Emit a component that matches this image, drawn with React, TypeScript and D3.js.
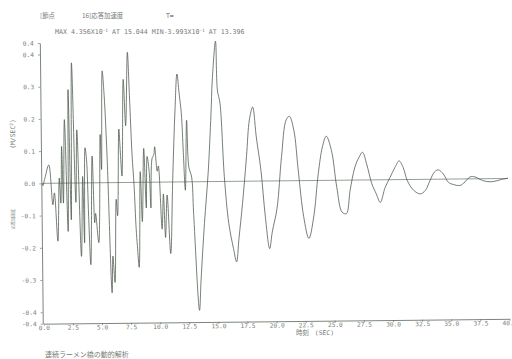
import React, { useEffect, useRef } from "react";
import * as d3 from "d3";

// response acceleration, node 16
const times = [
  0.0, 0.05, 0.23, 0.57, 0.89, 1.03, 1.29, 1.46, 1.58, 1.69, 1.8, 1.95, 2.18, 2.29, 2.46, 2.61,
  2.87, 3.01, 3.3, 3.47, 3.58, 3.7, 3.82, 3.95, 4.1, 4.3, 4.47, 4.55, 4.8, 5.01, 5.1, 5.24,
  5.39, 5.58, 5.9, 6.0, 6.16, 6.33, 6.44, 6.62, 6.73, 6.85, 7.04, 7.21, 7.42, 7.56, 7.73, 7.88,
  8.02, 8.11, 8.25, 8.42, 8.56, 8.74, 8.91, 9.02, 9.19, 9.31, 9.45, 9.6, 9.68, 9.88, 9.98,
  10.25, 10.39, 10.54, 10.71, 10.97, 11.2, 11.46, 11.66, 11.83, 12.0, 12.14, 12.28, 12.45,
  12.6, 12.83, 12.97, 13.39, 13.55, 13.89, 14.26, 14.55, 14.69, 15.0, 15.12, 15.33, 15.64,
  15.98, 16.36, 16.62, 16.84, 17.18, 17.56, 17.84, 18.13, 18.42, 18.79, 19.13, 19.47, 19.71,
  20.14, 20.57, 21.0, 21.28, 21.65, 21.99, 22.42, 22.85, 23.28, 23.71, 24.09, 24.43, 24.86,
  25.29, 25.72, 26.09, 26.43, 26.86, 27.23, 27.53, 27.87, 28.3, 28.67, 29.01, 29.44, 29.87,
  30.3, 30.67, 31.01, 31.36, 31.87, 32.45, 32.88, 33.3, 33.68, 34.02, 34.45, 34.88, 35.31,
  35.88, 36.31, 36.74, 37.17, 37.6, 38.18, 38.75, 39.32, 40.0,
];
const accel = [
  0.0, -0.007, 0.016, 0.057, -0.067, -0.03, -0.18, 0.016, -0.062, 0.114, -0.062, 0.197, -0.15,
  0.29, -0.114, 0.373, -0.06, 0.165, -0.228, 0.02, -0.186, 0.109, 0.072, -0.104, -0.254, 0.083,
  -0.124, -0.095, -0.186, 0.15, 0.041, 0.347, 0.27, 0.089, -0.342, -0.228, -0.31, -0.052,
  -0.103, 0.166, 0.094, 0.02, 0.32, 0.176, 0.404, 0.27, 0.089, -0.01, -0.144, -0.196, -0.264,
  0.033, -0.122, 0.105, -0.08, 0.08, 0.033, -0.08, 0.074, 0.085, 0.11, 0.034, 0.05, -0.146,
  -0.037, -0.172, -0.04, -0.222, 0.005, 0.222, 0.335, 0.275, 0.213, 0.09, -0.026, 0.191,
  0.046, 0.015, -0.098, -0.3993, -0.305, -0.13, 0.03, 0.21, 0.315, 0.4356, 0.284, 0.243,
  0.015, -0.13, -0.208, -0.25, -0.178, -0.069, 0.076, 0.19, 0.23, 0.137, 0.033, -0.112, -0.21,
  -0.158, -0.085, 0.075, 0.189, 0.2, 0.157, 0.033, -0.112, -0.18, -0.113, 0.021, 0.104, 0.137,
  0.093, -0.022, -0.099, -0.104, -0.032, 0.04, 0.071, 0.086, 0.05, -0.012, -0.043, -0.07,
  -0.024, 0.007, 0.038, 0.058, 0.037, -0.004, -0.033, -0.045, -0.035, -0.004, 0.022, 0.029,
  0.016, -0.01, -0.017, -0.02, -0.009, 0.006, 0.006, -0.002, -0.009, -0.009, -0.004, 0.001,
];
const xTicks = [0, 2.5, 5, 7.5, 10, 12.5, 15, 17.5, 20, 22.5, 25, 27.5, 30, 32.5, 35, 37.5, 40];
const yTicks = [-0.4, -0.3, -0.2, -0.1, 0, 0.1, 0.2, 0.3, 0.4];
const peak = 0.4356; // axis runs to +-MAX

const W = 512;
const H = 359;
const ink = "#5a685a";
const txt = "#767c76";
const mono = "'DejaVu Sans Mono', monospace";
const jp = "'Noto Sans CJK JP', sans-serif";

export default function App() {
  const gRef = useRef<SVGGElement>(null);

  useEffect(() => {
    const x = d3.scaleLinear().domain([0, 40]).range([42.3, 508]);
    const y = d3.scaleLinear().domain([-peak, peak]).range([323.7, 43]);
    const g = d3.select(gRef.current);
    g.selectAll("*").remove();

    const xa = g
      .append("g")
      .attr("transform", `translate(0,${y(-peak)})`)
      .call(
        d3
          .axisBottom(x)
          .tickValues(xTicks)
          .tickSize(2)
          .tickSizeOuter(0)
          .tickPadding(0)
          .tickFormat((d) => (+d).toFixed(1))
      );
    const ya = g
      .append("g")
      .attr("transform", `translate(${x(0) - 1},0)`)
      .call(
        d3
          .axisLeft(y)
          .tickValues([-peak, ...yTicks, peak])
          .tickSize(2)
          .tickSizeOuter(0)
          .tickPadding(4)
          .tickFormat((d) => (+d).toFixed(1))
      );
    [xa, ya].forEach((a) => {
      a.select(".domain").attr("stroke", ink).attr("stroke-width", 0.8);
      a.selectAll(".tick line").attr("stroke", ink).attr("stroke-width", 0.6);
      a.selectAll("text")
        .attr("fill", txt)
        .style("font-family", mono)
        .style("font-size", "6.2px");
    });

    // zero line
    g.append("line")
      .attr("x1", x(0))
      .attr("x2", x(40))
      .attr("y1", y(0))
      .attr("y2", y(0))
      .attr("stroke", "#667666")
      .attr("stroke-width", 0.7);

    const line = d3
      .line<number>()
      .x((_, i) => x(times[i]))
      .y((d) => y(d))
      .curve(d3.curveCatmullRom.alpha(0.5));
    g.append("path")
      .attr("d", line(accel))
      .attr("fill", "none")
      .attr("stroke", "#485448")
      .attr("stroke-width", 0.75);
  }, []);

  return (
    <svg
      width={W}
      height={H}
      style={{ position: "absolute", left: 0, top: 0, background: "#fff" }}
    >
      <g fill={txt} fontSize="6.4px">
        <text x={40} y={18} fontFamily={jp}>[節点</text>
        <text x={82} y={18} fontFamily={jp}>16]応答加速度</text>
        <text x={166} y={18} fontFamily={mono}>T=</text>
        <text x={55} y={34} fontFamily={mono} fontSize="6.6px">
          MAX 4.356X10<tspan dy={-2.5} fontSize="4.5px">-1</tspan>
          <tspan dy={2.5}> AT 15.044 MIN-3.993X10</tspan>
          <tspan dy={-2.5} fontSize="4.5px">-1</tspan>
          <tspan dy={2.5}> AT 13.396</tspan>
        </text>
        <text
          transform="translate(15,134) rotate(-90)"
          textAnchor="middle"
          fontFamily={mono}
        >
          (M/SEC<tspan dy={-2} fontSize="4.5px">2</tspan>
          <tspan dy={2}>)</tspan>
        </text>
        <text
          transform="translate(15,219) rotate(-90)"
          textAnchor="middle"
          fontFamily={jp}
          fontSize="4px"
        >
          応答加速度
        </text>
        <text x={296} y={335}>
          <tspan fontFamily={jp}>時刻</tspan>
          <tspan dx={6} fontFamily={mono}>(SEC)</tspan>
        </text>
        <text x={45} y={357} fontFamily={jp} fontSize="7px">
          連続ラーメン橋の動的解析
        </text>
      </g>
      <g transform="rotate(-0.6 42 183)">
        <g ref={gRef} />
      </g>
    </svg>
  );
}
